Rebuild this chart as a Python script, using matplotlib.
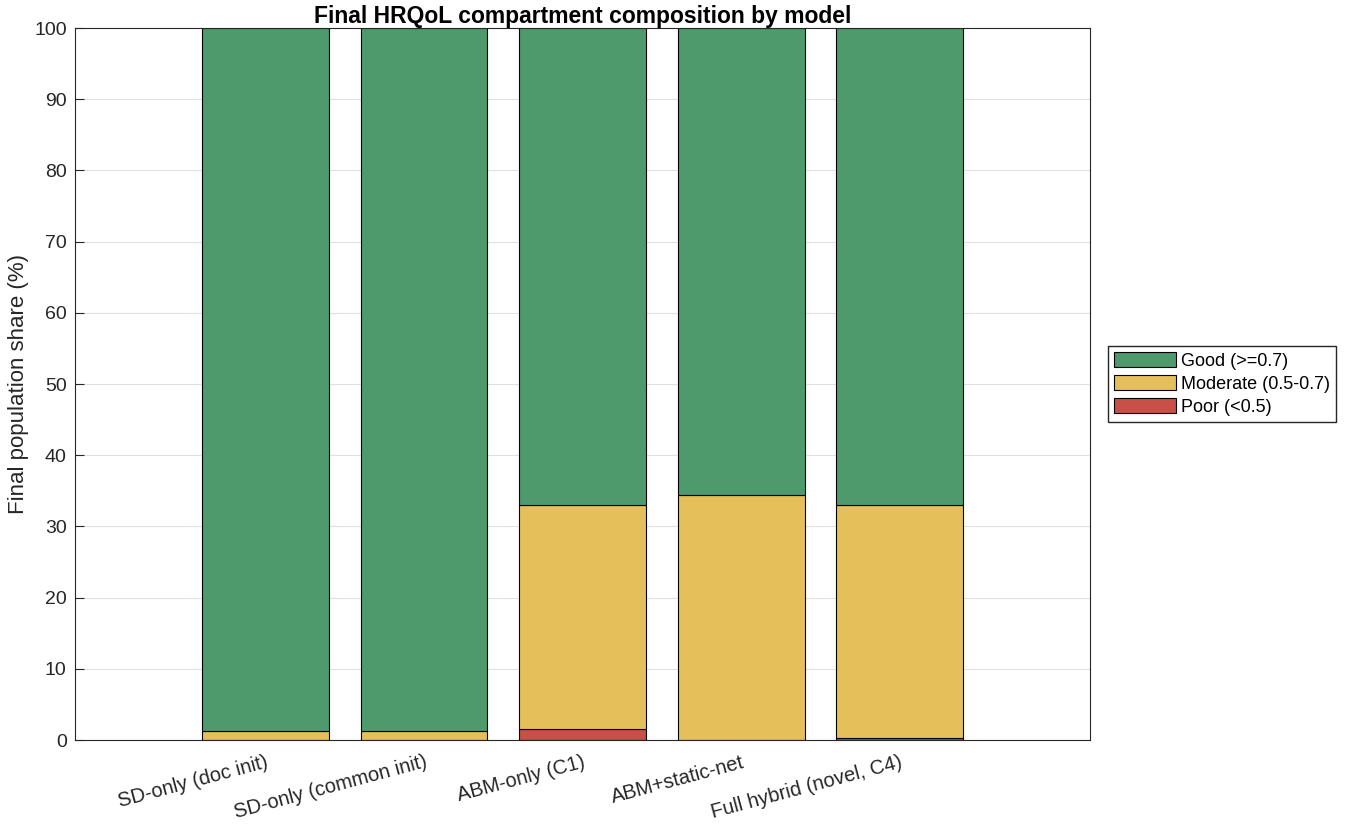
import matplotlib.pyplot as plt
import numpy as np

plt.rcParams['font.family'] = ['Liberation Sans', 'DejaVu Sans']

models = ['SD-only (doc init)', 'SD-only (common init)', 'ABM-only (C1)',
          'ABM+static-net', 'Full hybrid (novel, C4)']
poor = [0.0, 0.0, 1.6, 0.0, 0.35]
moderate = [1.3, 1.3, 31.4, 34.4, 32.65]
good = [98.7, 98.7, 67.0, 65.6, 67.0]

c_good = '#4E9A6C'
c_mod = '#E5C05A'
c_poor = '#C85046'

fig = plt.figure(figsize=(13.45, 8.33), dpi=100)
ax = fig.add_axes([0.0558, 0.1116, 0.7546, 0.8547])

index = np.arange(1, len(models) + 1)
poor = np.array(poor)
moderate = np.array(moderate)
good = np.array(good)

ax.bar(index, poor, 0.8, color=c_poor, edgecolor='black', linewidth=0.8,
       label='Poor (<0.5)', zorder=2)
ax.bar(index, moderate, 0.8, bottom=poor, color=c_mod, edgecolor='black',
       linewidth=0.8, label='Moderate (0.5-0.7)', zorder=2)
ax.bar(index, good, 0.8, bottom=poor + moderate, color=c_good,
       edgecolor='black', linewidth=0.8, label='Good (>=0.7)', zorder=2)

ax.set_xlim(-0.2, 6.2)
ax.set_ylim(0, 100)
yt = np.arange(0, 101, 10)
ax.set_yticks(yt)
# grid under the bars, ticks over them (like matlab)
for y in yt[1:-1]:
    ax.axhline(y, color='#e0e0e0', linewidth=0.8, zorder=1)
ax.set_xticks(index)
ax.set_xticklabels(models, rotation=15, ha='right', rotation_mode='anchor')
ax.tick_params(axis='both', direction='in', labelsize=14, colors='#262626',
               labelcolor='#262626', length=6.5, width=0.8)
ax.tick_params(axis='x', labelsize=14.5, pad=9)
ax.tick_params(axis='y', pad=6)
for s in ax.spines.values():
    s.set_color('#262626')
    s.set_linewidth(0.8)

ax.set_ylabel('Final population share (%)', fontsize=16, color='#262626',
              labelpad=4)
ax.set_title('Final HRQoL compartment composition by model', fontsize=16.5,
             fontweight='bold', pad=3)

h, l = ax.get_legend_handles_labels()
fig.legend(h[::-1], l[::-1], loc='center left',
           bbox_to_anchor=(1099 / 1345, 1 - 384 / 833),
           fontsize=13, fancybox=False, edgecolor='#262626', framealpha=1,
           handlelength=3.4, handleheight=0.9, borderpad=0.35,
           labelspacing=0.3, handletextpad=0.3)

plt.savefig('out.png', dpi=100)
